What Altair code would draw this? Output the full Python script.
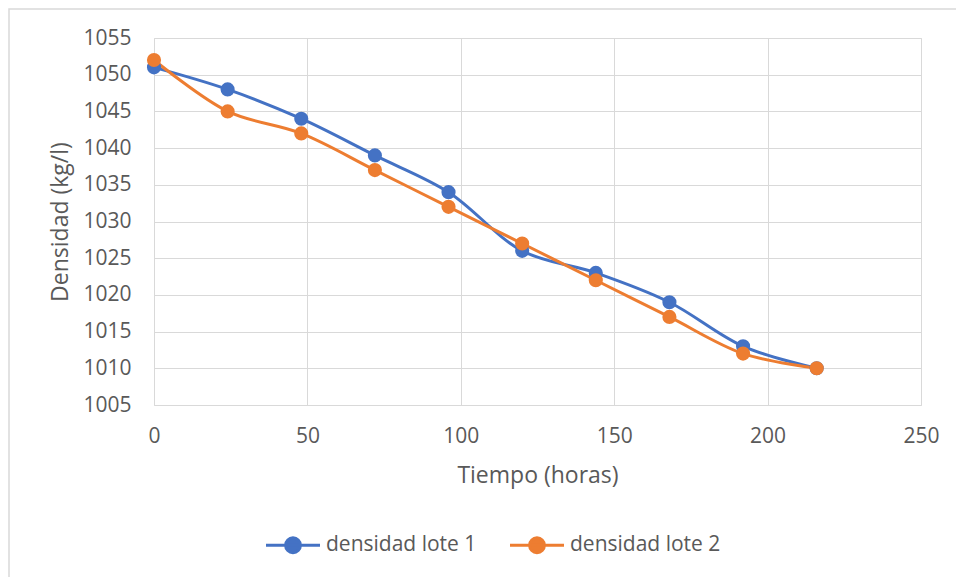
import altair as alt
import pandas as pd

horas = [0, 24, 48, 72, 96, 120, 144, 168, 192, 216]
lote1 = [1051, 1048, 1044, 1039, 1034, 1026, 1023, 1019, 1013, 1010]
lote2 = [1052, 1045, 1042, 1037, 1032, 1027, 1022, 1017, 1012, 1010]
series = ["densidad lote 1", "densidad lote 2"]
colors = ["#4472C4", "#ED7D31"]
x_ticks = [0, 50, 100, 150, 200, 250]
y_ticks = [1005, 1010, 1015, 1020, 1025, 1030, 1035, 1040, 1045, 1050, 1055]

rows = []
for h, v in zip(horas, lote1):
    rows.append({"Tiempo": h, "Densidad": v, "serie": series[0]})
for h, v in zip(horas, lote2):
    rows.append({"Tiempo": h, "Densidad": v, "serie": series[1]})
df = pd.DataFrame(rows)

FONT = "Open Sans"
TXT = "#595959"
GRID = "#d9d9d9"
W, H = 767, 367

x = alt.X("Tiempo:Q", scale=alt.Scale(domain=[0, 250], nice=False),
          axis=alt.Axis(values=x_ticks, title="Tiempo (horas)", format="d",
                        grid=True, gridColor=GRID, domain=False, ticks=False,
                        labelFlush=False,
                        labelFontSize=21, labelColor=TXT, labelPadding=20, labelFont=FONT,
                        titleFontSize=23, titleColor=TXT, titleFontWeight="normal",
                        titlePadding=18, titleFont=FONT))
y = alt.Y("Densidad:Q", scale=alt.Scale(domain=[1005, 1055], nice=False, zero=False),
          axis=alt.Axis(values=y_ticks, title="Densidad (kg/l)", format="d",
                        grid=True, gridColor=GRID, domain=False, ticks=False,
                        labelFlush=False,
                        labelFontSize=21, labelColor=TXT, labelPadding=23, labelFont=FONT,
                        titleFontSize=23, titleColor=TXT, titleFontWeight="normal",
                        titlePadding=10, titleFont=FONT))
color = alt.Color("serie:N", scale=alt.Scale(domain=series, range=colors),
                  legend=alt.Legend(title=None, orient="none", direction="horizontal",
                                    legendX=124, legendY=492,
                                    labelFontSize=21, labelColor=TXT, labelFont=FONT,
                                    symbolType="M -2 0 L 2 0 M 0.55 0 A 0.55 0.55 0 1 1 -0.55 0 A 0.55 0.55 0 1 1 0.55 0 Z",
                                    symbolSize=729, symbolStrokeWidth=3,
                                    columnPadding=27, labelOffset=18))

base = alt.Chart(df)
lines = base.mark_line(strokeWidth=3, interpolate="catmull-rom").encode(x=x, y=y, color=color)
points = base.mark_point(filled=True, size=200, opacity=1).encode(x=x, y=y, color=color)

border = alt.Chart(pd.DataFrame({"a": [0]})).mark_rect(
    fill=None, stroke=GRID, strokeWidth=1.5
).encode(x=alt.value(-145), x2=alt.value(W + 60), y=alt.value(-29), y2=alt.value(H + 220))

chart = alt.layer(border, lines, points).properties(
    width=W, height=H,
    autosize=alt.AutoSizeParams(type="none"),
    padding={"left": 154, "top": 38, "right": 35, "bottom": 172},
).configure_view(stroke=GRID, strokeWidth=1.5).configure(background="white")

chart.save("out.html", embed_options={"renderer": "svg", "actions": False})
